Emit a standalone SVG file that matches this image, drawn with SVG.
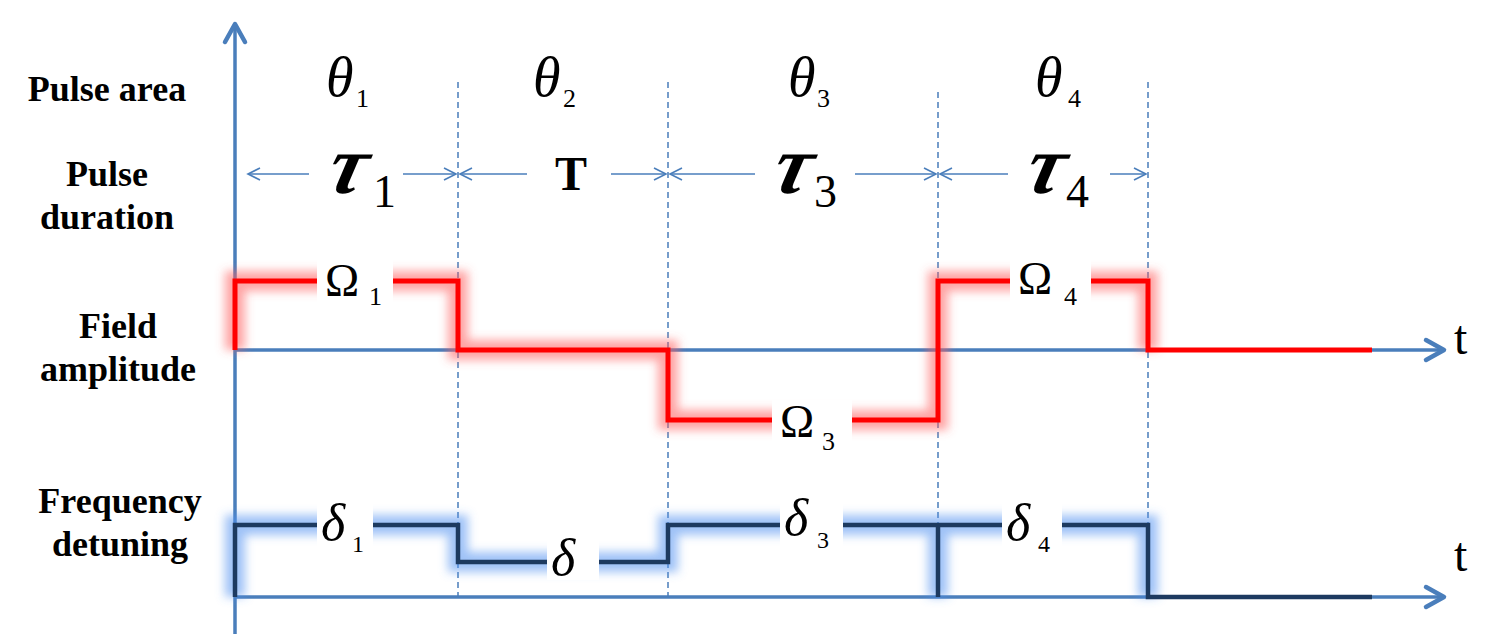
<svg xmlns="http://www.w3.org/2000/svg" width="1502" height="634" viewBox="0 0 1502 634">
<style>
.row{font-family:"Liberation Serif","Times New Roman",serif;font-weight:bold;font-size:36px;fill:#000;text-anchor:middle}
.gr{font-family:"Liberation Serif","DejaVu Serif",serif;font-style:italic;fill:#000}
.num{font-family:"Liberation Serif","DejaVu Serif",serif;fill:#000}
.axis{stroke:#4a7ebb;stroke-width:3.5;fill:none}
.guide{stroke:#4a7ebb;stroke-width:1.5;stroke-dasharray:6 4;fill:none}
.dur{stroke:#4a7ebb;stroke-width:1.6;fill:none}
.bg{fill:#fff}
</style>
<defs>
<marker id="axhead" viewBox="-25 -15 30 30" refX="0" refY="0" markerWidth="30" markerHeight="30" orient="auto" markerUnits="userSpaceOnUse" overflow="visible">
<path d="M-18,-10 L0,0 L-18,10" fill="none" stroke="#4a7ebb" stroke-width="4.5" stroke-linecap="round" stroke-linejoin="round"/>
</marker>
<marker id="durhead" viewBox="-14 -8 16 16" refX="0" refY="0" markerWidth="16" markerHeight="16" orient="auto-start-reverse" markerUnits="userSpaceOnUse" overflow="visible">
<path d="M-12,-6 L0,0 L-12,6" fill="none" stroke="#4a7ebb" stroke-width="1.6"/>
</marker>
<filter id="blur" filterUnits="userSpaceOnUse" x="0" y="0" width="1502" height="634">
<feGaussianBlur stdDeviation="5"/>
</filter>
</defs>
<rect width="1502" height="634" fill="#fff"/>

<g id="guides">
<line class="guide" x1="458" y1="82" x2="458" y2="597"/>
<line class="guide" x1="668" y1="82" x2="668" y2="597"/>
<line class="guide" x1="938" y1="92" x2="938" y2="597"/>
<line class="guide" x1="1148" y1="82" x2="1148" y2="597"/>
</g>

<g id="axes">
<line class="axis" x1="235" y1="634" x2="235" y2="24" marker-end="url(#axhead)" stroke-width="4"/>
<line class="axis" x1="235" y1="350" x2="1444" y2="350" marker-end="url(#axhead)"/>
<line class="axis" x1="235" y1="597" x2="1444" y2="597" marker-end="url(#axhead)"/>
</g>

<g id="connectors">
<g id="durations">
<line class="dur" x1="248" y1="174" x2="309" y2="174" marker-start="url(#durhead)"/>
<line class="dur" x1="403" y1="174" x2="456" y2="174" marker-end="url(#durhead)"/>
<line class="dur" x1="460" y1="174" x2="527" y2="174" marker-start="url(#durhead)"/>
<line class="dur" x1="611" y1="174" x2="666" y2="174" marker-end="url(#durhead)"/>
<line class="dur" x1="670" y1="174" x2="755" y2="174" marker-start="url(#durhead)"/>
<line class="dur" x1="855" y1="174" x2="936" y2="174" marker-end="url(#durhead)"/>
<line class="dur" x1="940" y1="174" x2="1008" y2="174" marker-start="url(#durhead)"/>
<line class="dur" x1="1110" y1="174" x2="1146" y2="174" marker-end="url(#durhead)"/>
</g>
<g id="field-signal">
<path d="M235,350 V281 H458 V350 H668 V420 H938 V281 H1148 V350" fill="none" stroke="#ff5a5a" stroke-width="20" stroke-opacity="0.55" filter="url(#blur)"/>
<path d="M235,350 V281 H458 V350 H668 V420 H938 V281 H1148 V350 H1372" fill="none" stroke="#ff0000" stroke-width="5"/>
</g>
<g id="detuning-signal">
<path d="M235,597 V525 H458 V562 H668 V525 H1148 V597 M938,525 V597" fill="none" stroke="#4f8ff0" stroke-width="20" stroke-opacity="0.55" filter="url(#blur)"/>
<path d="M235,597 V525 H458 V562 H668 V525 H1148 V597 H1372 M938,525 V597" fill="none" stroke="#1d3a60" stroke-width="4.5"/>
</g>
</g>

<g id="row-labels">
<text class="row" x="107" y="101">Pulse area</text>
<text class="row" x="107" y="186">Pulse</text>
<text class="row" x="107" y="229">duration</text>
<text class="row" x="118" y="338">Field</text>
<text class="row" x="118" y="381">amplitude</text>
<text class="row" x="120" y="513">Frequency</text>
<text class="row" x="120" y="556">detuning</text>
</g>

<g id="pulse-areas">
<g id="theta1"><text class="gr" x="326" y="96" font-size="56">θ</text><text class="num" x="356" y="107" font-size="26">1</text></g>
<g id="theta2"><text class="gr" x="533" y="96" font-size="56">θ</text><text class="num" x="563" y="107" font-size="26">2</text></g>
<g id="theta3"><text class="gr" x="788" y="96" font-size="56">θ</text><text class="num" x="817" y="107" font-size="26">3</text></g>
<g id="theta4"><text class="gr" x="1035" y="96" font-size="56">θ</text><text class="num" x="1068" y="107" font-size="26">4</text></g>
</g>

<g id="pulse-durations">
<g id="tau1"><text class="gr" transform="translate(324,193) skewX(-14)" font-size="84" font-weight="bold">τ</text><text class="num" x="373" y="207" font-size="46">1</text></g>
<g id="T"><text class="num" x="555" y="190" font-size="48" font-weight="bold">T</text></g>
<g id="tau3"><text class="gr" transform="translate(769,193) skewX(-14)" font-size="84" font-weight="bold">τ</text><text class="num" x="814" y="207" font-size="46">3</text></g>
<g id="tau4"><text class="gr" transform="translate(1022,193) skewX(-14)" font-size="84" font-weight="bold">τ</text><text class="num" x="1066" y="207" font-size="46">4</text></g>
</g>

<g id="field-labels">
<g id="omega1"><rect class="bg" x="317" y="253" width="76" height="55"/><text class="num" x="325" y="296" font-size="46">Ω</text><text class="num" x="369" y="305" font-size="26">1</text></g>
<g id="omega3"><rect class="bg" x="772" y="400" width="80" height="50"/><text class="num" x="780" y="437" font-size="46">Ω</text><text class="num" x="822" y="450" font-size="26">3</text></g>
<g id="omega4"><rect class="bg" x="1010" y="253" width="81" height="53"/><text class="num" x="1018" y="294" font-size="46">Ω</text><text class="num" x="1064" y="305" font-size="26">4</text></g>
</g>

<g id="detuning-labels">
<g id="delta1"><rect class="bg" x="317" y="498" width="56" height="58"/><text class="gr" x="321" y="540" font-size="52">δ</text><text class="num" x="352" y="552" font-size="24">1</text></g>
<g id="delta"><rect class="bg" x="547" y="536" width="52" height="44"/><text class="gr" x="551" y="575" font-size="52">δ</text></g>
<g id="delta3"><rect class="bg" x="780" y="498" width="63" height="58"/><text class="gr" x="784" y="535" font-size="52">δ</text><text class="num" x="817" y="548" font-size="24">3</text></g>
<g id="delta4"><rect class="bg" x="1002" y="498" width="60" height="58"/><text class="gr" x="1006" y="540" font-size="52">δ</text><text class="num" x="1038" y="552" font-size="24">4</text></g>
</g>

<g id="time-labels">
<text class="num" x="1454" y="354" font-size="48">t</text>
<text class="num" x="1454" y="571" font-size="48">t</text>
</g>
</svg>
